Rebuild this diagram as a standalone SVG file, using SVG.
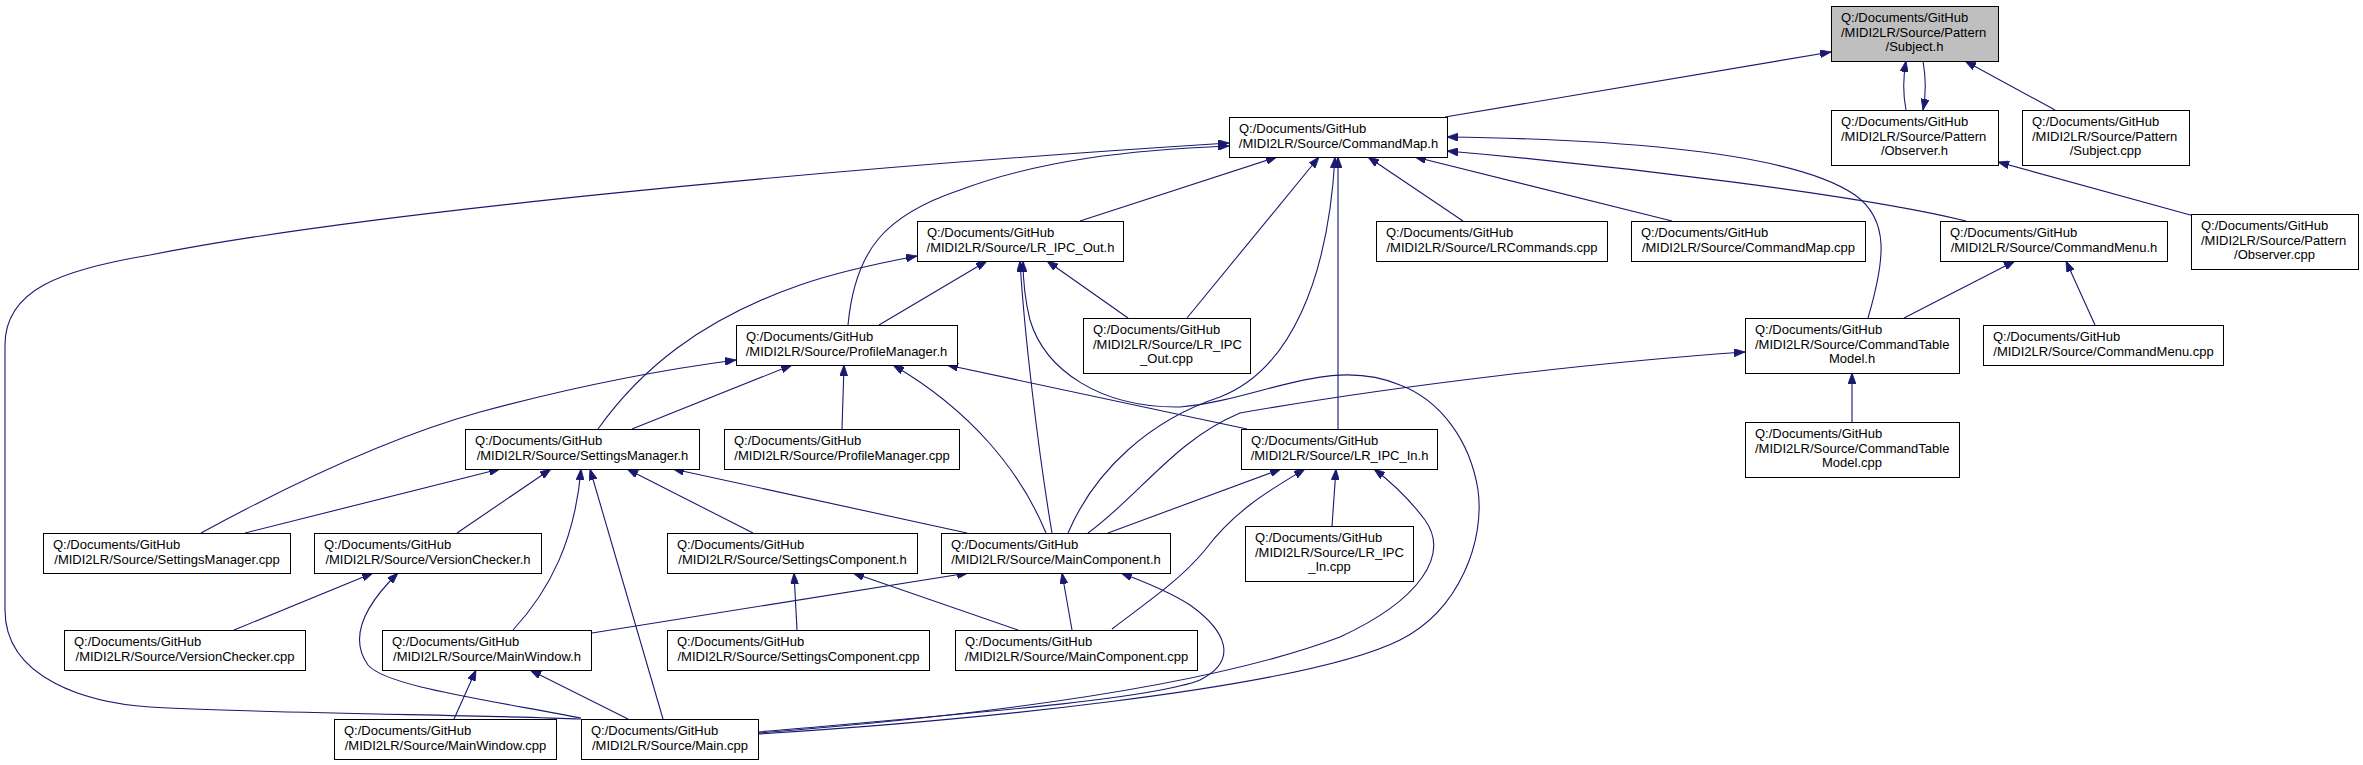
<svg xmlns="http://www.w3.org/2000/svg" width="2363" height="765" viewBox="0 0 2363 765">
<style>
.node rect{fill:#ffffff;stroke:#000000;stroke-width:1}
.node.root rect{fill:#bfbfbf}
.node text{font-family:"Liberation Sans",Arial,sans-serif;font-size:13px;fill:#000000}
.node text.c{text-anchor:middle}
#edges path{fill:none;stroke:#191970;stroke-width:1.1;marker-end:url(#arr)}
</style>
<defs>
<marker id="arr" viewBox="0 0 11 8" markerWidth="11" markerHeight="8" refX="11" refY="4" orient="auto" markerUnits="userSpaceOnUse">
<path d="M0,0 L11,4 L0,8 z" fill="#191970" stroke="#191970" stroke-width="0.8"/>
</marker>
</defs>
<rect x="0" y="0" width="2363" height="765" fill="#ffffff"/>
<g id="edges">
<path d="M1445,117 L1831,52"/>
<path d="M1906,110 C1903,95 1903,78 1906,61"/>
<path d="M1923,61 C1926,78 1926,95 1923,110"/>
<path d="M2055,110 L1965,61"/>
<path d="M2194,216 L1998,162"/>
<path d="M1080,221 L1277,157"/>
<path d="M1187,318 L1319,157"/>
<path d="M1463,221 L1368,157"/>
<path d="M1672,221 L1415,157"/>
<path d="M1966,221 C1860,195 1620,166 1447,151"/>
<path d="M1868,318 C1885,260 1890,220 1855,195 C1790,150 1600,139 1447,137"/>
<path d="M1338,429 L1338,157"/>
<path d="M1068,533 C1095,470 1150,420 1220,397 C1290,370 1328,280 1335,157"/>
<path d="M848,325 C855,250 885,215 960,190 C1040,160 1130,150 1229,146"/>
<path d="M581,719 C480,715 250,713 150,707 C90,703 5,680 5,610 L5,345 C5,290 60,270 150,255 C350,215 800,170 1229,143"/>
<path d="M879,325 L987,261"/>
<path d="M598,429 C640,370 700,320 800,285 C840,271 880,263 917,256"/>
<path d="M1128,318 L1047,261"/>
<path d="M1052,533 C1038,450 1024,330 1020,261"/>
<path d="M758,734 C950,722 1300,690 1400,640 C1460,610 1485,540 1478,490 C1470,440 1440,400 1400,385 C1330,355 1260,400 1180,407 C1100,408 1045,370 1030,320 C1025,300 1023,280 1023,261"/>
<path d="M1852,422 L1852,373"/>
<path d="M1904,318 L2015,261"/>
<path d="M2095,325 L2066,261"/>
<path d="M1088,533 C1140,495 1175,440 1240,413 C1400,385 1600,362 1745,352"/>
<path d="M632,429 L792,365"/>
<path d="M201,533 C280,490 380,440 480,412 C580,385 660,370 736,360"/>
<path d="M842,429 L844,365"/>
<path d="M1046,533 C1020,470 970,410 893,365"/>
<path d="M1247,429 L947,365"/>
<path d="M245,533 L500,469"/>
<path d="M457,533 L551,469"/>
<path d="M513,630 C550,590 575,540 581,469"/>
<path d="M663,719 L590,469"/>
<path d="M753,533 L627,469"/>
<path d="M967,533 L673,469"/>
<path d="M234,630 L373,573"/>
<path d="M581,718 C470,697 385,685 368,665 C350,640 360,610 398,573"/>
<path d="M1108,533 L1281,469"/>
<path d="M1332,526 L1336,469"/>
<path d="M1112,629 C1150,600 1180,580 1205,550 C1235,510 1270,490 1305,469"/>
<path d="M758,733 C950,718 1200,690 1340,637 C1420,600 1450,555 1425,520 C1410,500 1395,485 1374,469"/>
<path d="M797,630 L794,573"/>
<path d="M1018,630 L853,573"/>
<path d="M592,633 L968,573"/>
<path d="M1072,630 L1062,573"/>
<path d="M758,732 C950,715 1150,700 1200,680 C1240,660 1225,630 1190,605 C1170,592 1145,582 1121,573"/>
<path d="M454,719 L476,670"/>
<path d="M628,719 L530,670"/>
</g>
<g id="subject_h" class="node root"><rect x="1831.5" y="6.5" width="167" height="55"/><text x="1841" y="22">Q:/Documents/GitHub</text><text x="1841" y="37">/MIDI2LR/Source/Pattern</text><text class="c" x="1914.5" y="51">/Subject.h</text></g>
<g id="observer_h" class="node"><rect x="1831.5" y="110.5" width="167" height="55"/><text x="1841" y="126">Q:/Documents/GitHub</text><text x="1841" y="141">/MIDI2LR/Source/Pattern</text><text class="c" x="1914.5" y="155">/Observer.h</text></g>
<g id="subject_cpp" class="node"><rect x="2022.5" y="110.5" width="167" height="55"/><text x="2032" y="126">Q:/Documents/GitHub</text><text x="2032" y="141">/MIDI2LR/Source/Pattern</text><text class="c" x="2105.5" y="155">/Subject.cpp</text></g>
<g id="commandmap_h" class="node"><rect x="1229.5" y="117.5" width="218" height="40"/><text x="1239" y="133">Q:/Documents/GitHub</text><text class="c" x="1338.5" y="148">/MIDI2LR/Source/CommandMap.h</text></g>
<g id="lr_ipc_out_h" class="node"><rect x="917.5" y="221.5" width="206" height="40"/><text x="927" y="237">Q:/Documents/GitHub</text><text class="c" x="1020.5" y="252">/MIDI2LR/Source/LR_IPC_Out.h</text></g>
<g id="lrcommands_cpp" class="node"><rect x="1376.5" y="221.5" width="231" height="40"/><text x="1386" y="237">Q:/Documents/GitHub</text><text class="c" x="1492" y="252">/MIDI2LR/Source/LRCommands.cpp</text></g>
<g id="commandmap_cpp" class="node"><rect x="1631.5" y="221.5" width="234" height="40"/><text x="1641" y="237">Q:/Documents/GitHub</text><text class="c" x="1748.5" y="252">/MIDI2LR/Source/CommandMap.cpp</text></g>
<g id="commandmenu_h" class="node"><rect x="1940.5" y="221.5" width="227" height="40"/><text x="1950" y="237">Q:/Documents/GitHub</text><text class="c" x="2054" y="252">/MIDI2LR/Source/CommandMenu.h</text></g>
<g id="observer_cpp" class="node"><rect x="2191.5" y="214.5" width="167" height="55"/><text x="2201" y="230">Q:/Documents/GitHub</text><text x="2201" y="245">/MIDI2LR/Source/Pattern</text><text class="c" x="2274.5" y="259">/Observer.cpp</text></g>
<g id="lr_ipc_out_cpp" class="node"><rect x="1083.5" y="318.5" width="167" height="55"/><text x="1093" y="334">Q:/Documents/GitHub</text><text x="1093" y="349">/MIDI2LR/Source/LR_IPC</text><text class="c" x="1166.5" y="363">_Out.cpp</text></g>
<g id="profilemanager_h" class="node"><rect x="736.5" y="325.5" width="221" height="40"/><text x="746" y="341">Q:/Documents/GitHub</text><text class="c" x="846.5" y="356">/MIDI2LR/Source/ProfileManager.h</text></g>
<g id="commandtablemodel_h" class="node"><rect x="1745.5" y="318.5" width="214" height="55"/><text x="1755" y="334">Q:/Documents/GitHub</text><text x="1755" y="349">/MIDI2LR/Source/CommandTable</text><text class="c" x="1852" y="363">Model.h</text></g>
<g id="commandmenu_cpp" class="node"><rect x="1983.5" y="325.5" width="240" height="40"/><text x="1993" y="341">Q:/Documents/GitHub</text><text class="c" x="2103.5" y="356">/MIDI2LR/Source/CommandMenu.cpp</text></g>
<g id="settingsmanager_h" class="node"><rect x="465.5" y="429.5" width="234" height="40"/><text x="475" y="445">Q:/Documents/GitHub</text><text class="c" x="582.5" y="460">/MIDI2LR/Source/SettingsManager.h</text></g>
<g id="profilemanager_cpp" class="node"><rect x="724.5" y="429.5" width="235" height="40"/><text x="734" y="445">Q:/Documents/GitHub</text><text class="c" x="842" y="460">/MIDI2LR/Source/ProfileManager.cpp</text></g>
<g id="lr_ipc_in_h" class="node"><rect x="1241.5" y="429.5" width="196" height="40"/><text x="1251" y="445">Q:/Documents/GitHub</text><text class="c" x="1339.5" y="460">/MIDI2LR/Source/LR_IPC_In.h</text></g>
<g id="commandtablemodel_cpp" class="node"><rect x="1745.5" y="422.5" width="214" height="55"/><text x="1755" y="438">Q:/Documents/GitHub</text><text x="1755" y="453">/MIDI2LR/Source/CommandTable</text><text class="c" x="1852" y="467">Model.cpp</text></g>
<g id="settingsmanager_cpp" class="node"><rect x="43.5" y="533.5" width="247" height="40"/><text x="53" y="549">Q:/Documents/GitHub</text><text class="c" x="167" y="564">/MIDI2LR/Source/SettingsManager.cpp</text></g>
<g id="versionchecker_h" class="node"><rect x="314.5" y="533.5" width="227" height="40"/><text x="324" y="549">Q:/Documents/GitHub</text><text class="c" x="428" y="564">/MIDI2LR/Source/VersionChecker.h</text></g>
<g id="settingscomponent_h" class="node"><rect x="667.5" y="533.5" width="250" height="40"/><text x="677" y="549">Q:/Documents/GitHub</text><text class="c" x="792.5" y="564">/MIDI2LR/Source/SettingsComponent.h</text></g>
<g id="maincomponent_h" class="node"><rect x="941.5" y="533.5" width="229" height="40"/><text x="951" y="549">Q:/Documents/GitHub</text><text class="c" x="1056" y="564">/MIDI2LR/Source/MainComponent.h</text></g>
<g id="lr_ipc_in_cpp" class="node"><rect x="1245.5" y="526.5" width="168" height="55"/><text x="1255" y="542">Q:/Documents/GitHub</text><text x="1255" y="557">/MIDI2LR/Source/LR_IPC</text><text class="c" x="1329.5" y="571">_In.cpp</text></g>
<g id="versionchecker_cpp" class="node"><rect x="64.5" y="630.5" width="241" height="40"/><text x="74" y="646">Q:/Documents/GitHub</text><text class="c" x="185" y="661">/MIDI2LR/Source/VersionChecker.cpp</text></g>
<g id="mainwindow_h" class="node"><rect x="382.5" y="630.5" width="209" height="40"/><text x="392" y="646">Q:/Documents/GitHub</text><text class="c" x="487" y="661">/MIDI2LR/Source/MainWindow.h</text></g>
<g id="settingscomponent_cpp" class="node"><rect x="667.5" y="630.5" width="262" height="40"/><text x="677" y="646">Q:/Documents/GitHub</text><text class="c" x="798.5" y="661">/MIDI2LR/Source/SettingsComponent.cpp</text></g>
<g id="maincomponent_cpp" class="node"><rect x="955.5" y="630.5" width="242" height="40"/><text x="965" y="646">Q:/Documents/GitHub</text><text class="c" x="1076.5" y="661">/MIDI2LR/Source/MainComponent.cpp</text></g>
<g id="mainwindow_cpp" class="node"><rect x="334.5" y="719.5" width="222" height="40"/><text x="344" y="735">Q:/Documents/GitHub</text><text class="c" x="445.5" y="750">/MIDI2LR/Source/MainWindow.cpp</text></g>
<g id="main_cpp" class="node"><rect x="581.5" y="719.5" width="177" height="40"/><text x="591" y="735">Q:/Documents/GitHub</text><text class="c" x="670" y="750">/MIDI2LR/Source/Main.cpp</text></g>
</svg>
